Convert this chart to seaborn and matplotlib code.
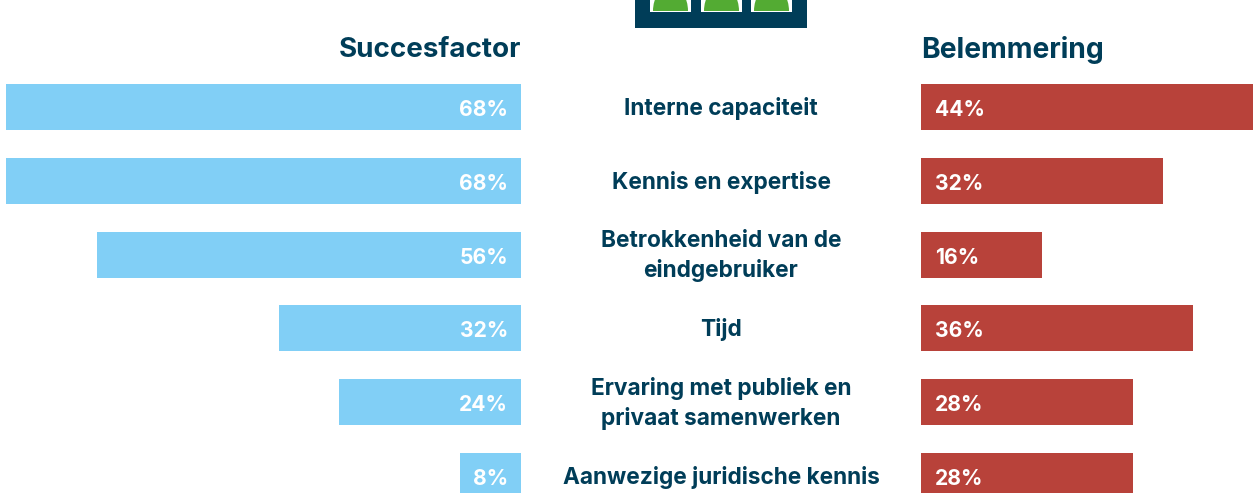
import matplotlib
matplotlib.use('Agg')
import matplotlib.pyplot as plt
import matplotlib.patches as mpatches
from matplotlib.transforms import blended_transform_factory
import seaborn as sns

factors=['Interne capaciteit','Kennis en expertise','Betrokkenheid van de\neindgebruiker','Tijd','Ervaring met publiek en\nprivaat samenwerken','Aanwezige juridische kennis']
succes=[68,68,56,32,24,8]
belemmering=[44,32,16,36,28,28]

W,H=1253,493
navy='#003d58'
blue='#81cff6'
red='#b8423a'
green='#53ab33'

sns.set_theme(style='white')
plt.rcParams['font.family']=['Inter','DejaVu Sans']

fig=plt.figure(figsize=(W/100,H/100),dpi=100)
ax_l=fig.add_axes([0,0,521/W,1])
ax_r=fig.add_axes([921/W,0,332/W,1])

sns.barplot(x=succes,y=factors,ax=ax_l,color=blue,saturation=1,width=0.623,linewidth=0)
sns.barplot(x=belemmering,y=factors,ax=ax_r,color=red,saturation=1,width=0.623,linewidth=0)

ylim=(5.23,-1.45)
ax_l.set_xlim(68.8,0)
ax_r.set_xlim(0,43.9)
for ax in (ax_l,ax_r):
    ax.set_ylim(*ylim)
    ax.axis('off')

# waardes in de balken
for i in range(len(factors)):
    ax_l.annotate(str(succes[i])+'%',(0,i),xytext=(-13,-3),textcoords='offset pixels',ha='right',va='center',color='white',fontsize=15.2,fontweight='bold')
    ax_r.annotate(str(belemmering[i])+'%',(0,i),xytext=(14,-3),textcoords='offset pixels',ha='left',va='center',color='white',fontsize=15.2,fontweight='bold')

# labels in het midden
trans=blended_transform_factory(fig.transFigure,ax_l.transData)
for i,each in enumerate(factors):
    fig.text(721/W,i+0.02,each,transform=trans,ha='center',va='center',color=navy,fontsize=16.3,fontweight='bold',linespacing=1.37)

fig.text(521/W,1-50/H,'Succesfactor',ha='right',va='center',color=navy,fontsize=20,fontweight='bold')
fig.text(921/W,1-50/H,'Belemmering',ha='left',va='center',color=navy,fontsize=20.3,fontweight='bold')

# stukje logo bovenaan
def px_rect(x,y,w,h,c):
    fig.add_artist(mpatches.Rectangle((x/W,1-(y+h)/H),w/W,h/H,transform=fig.transFigure,color=c,lw=0))

px_rect(635,0,172,28,navy)
for x in [650,701,751]:
    px_rect(x,0,41,12,'white')
    fig.add_artist(mpatches.Ellipse(((x+20.5)/W,1-11/H),35/W,50/H,transform=fig.transFigure,color=green,lw=0))
    px_rect(x,11,41,1,'white')
    px_rect(x-3,12,47,16,navy)
    px_rect(x-3,28,47,10,'white')

fig.savefig('out.png',dpi=100)
